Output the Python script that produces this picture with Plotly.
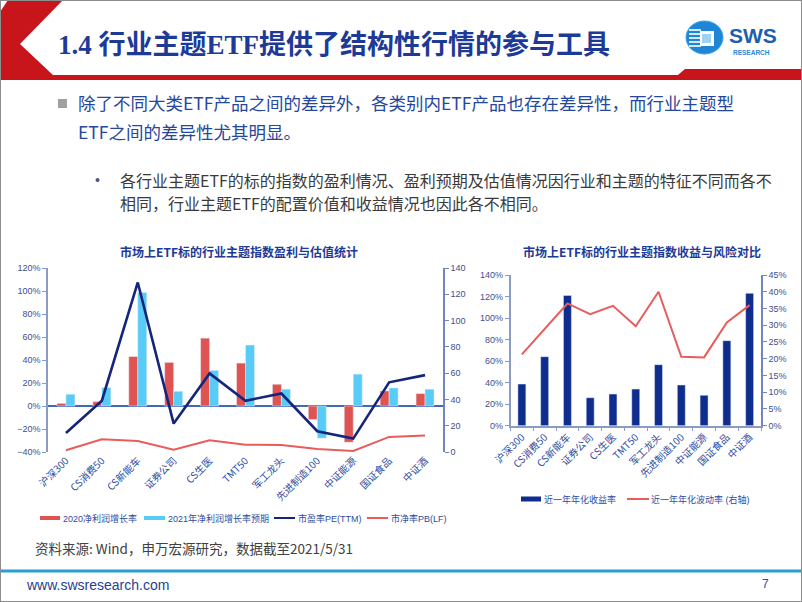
import plotly.graph_objects as go

W, H = 802, 602


def px(x):
    return x / W


def py(y):
    return 1 - y / H


# ---------------- data ----------------
categories = ["沪深300", "CS消费50", "CS新能车", "证券公司", "CS生医", "TMT50",
              "军工龙头", "先进制造100", "中证能源", "国证食品", "中证酒"]
profit_2020 = [0.023, 0.038, 0.43, 0.379, 0.59, 0.373, 0.189, -0.117, -0.315, 0.131, 0.108]
profit_2021e = [0.102, 0.16, 0.987, 0.128, 0.31, 0.53, 0.146, -0.28, 0.277, 0.157, 0.146]
pe_ttm = [14.5, 39, 129, 21.6, 59.8, 39, 44.5, 15.8, 10.2, 53, 58.5]
pb_lf = [1.3, 9.7, 8.4, 1.8, 8.9, 5.6, 5.3, 2.3, 0.8, 11.5, 12.5]
ret_1y = [0.387, 0.641, 1.21, 0.26, 0.294, 0.34, 0.567, 0.378, 0.282, 0.79, 1.23]
vol_1y = [0.213, 0.29, 0.365, 0.333, 0.358, 0.297, 0.40, 0.206, 0.204, 0.308, 0.36]

legend1_labels = ["2020净利润增长率", "2021年净利润增长率预期", "市盈率PE(TTM)", "市净率PB(LF)"]
legend2_labels = ["近一年年化收益率", "近一年年化波动率 (右轴)"]

title_text = "1.4 行业主题ETF提供了结构性行情的参与工具"
bullet1 = ["除了不同大类ETF产品之间的差异外，各类别内ETF产品也存在差异性，而行业主题型",
           "ETF之间的差异性尤其明显。"]
bullet2 = ["各行业主题ETF的标的指数的盈利情况、盈利预期及估值情况因行业和主题的特征不同而各不",
           "相同，行业主题ETF的配置价值和收益情况也因此各不相同。"]
chart1_title = "市场上ETF标的行业主题指数盈利与估值统计"
chart2_title = "市场上ETF标的行业主题指数收益与风险对比"
source_text = "资料来源: Wind，申万宏源研究，数据截至2021/5/31"

# ---------------- colors ----------------
RED_BAR = "#e05353"
CYAN_BAR = "#58cbf6"
NAVY_LINE = "#15257c"
RED_LINE = "#e85c5c"
NAVY_BAR = "#0f2d8e"
AXIS_COL = "#8a9bc8"
TICK_COL = "#3c4f90"
CAT_COL = "#2e4c9e"

FONT = "Liberation Sans, Noto Sans CJK SC, sans-serif"
CJK = "Noto Sans CJK SC, Liberation Sans, sans-serif"

fig = go.Figure()

# chart 1
fig.add_trace(go.Bar(x=categories, y=profit_2020, marker_color=RED_BAR, xaxis="x", yaxis="y",
                     showlegend=False))
fig.add_trace(go.Bar(x=categories, y=profit_2021e, marker_color=CYAN_BAR, xaxis="x", yaxis="y",
                     showlegend=False))
fig.add_trace(go.Scatter(x=categories, y=pe_ttm, mode="lines", line=dict(color=NAVY_LINE, width=2.6),
                         xaxis="x", yaxis="y2", showlegend=False))
fig.add_trace(go.Scatter(x=categories, y=pb_lf, mode="lines", line=dict(color=RED_LINE, width=2),
                         xaxis="x", yaxis="y2", showlegend=False))
# chart 2
fig.add_trace(go.Bar(x=categories, y=ret_1y, marker_color=NAVY_BAR, width=0.35,
                     xaxis="x2", yaxis="y3", showlegend=False))
fig.add_trace(go.Scatter(x=categories, y=vol_1y, mode="lines", line=dict(color=RED_LINE, width=2),
                         xaxis="x2", yaxis="y4", showlegend=False))

tickfont = dict(size=9, color=TICK_COL, family=FONT)
catfont = dict(size=10, color=CAT_COL, family=CJK)

fig.update_layout(
    width=W, height=H, margin=dict(l=0, r=0, t=0, b=0, autoexpand=False),
    paper_bgcolor="white", plot_bgcolor="rgba(0,0,0,0)",
    font=dict(family=FONT),
    showlegend=False,
    barmode="group", bargap=0.5, bargroupgap=0,
    xaxis=dict(domain=[px(48), px(443)], anchor="y", showgrid=False, showline=False, automargin=False,
               ticks="", tickangle=-45, tickfont=catfont),
    yaxis=dict(domain=[py(452), py(268)], anchor="x", range=[-0.4, 1.2], dtick=0.2, automargin=False,
               tickformat=".0%", showgrid=False, showline=True, linecolor=AXIS_COL, linewidth=1.5,
               ticks="outside", ticklen=4, tickcolor=AXIS_COL, tickfont=tickfont,
               zeroline=True, zerolinecolor="#4468b2", zerolinewidth=1.5),
    yaxis2=dict(overlaying="y", side="right", anchor="x", range=[0, 140], dtick=20, automargin=False,
                showgrid=False, showline=True, linecolor="#6f86c0", linewidth=1.5,
                ticks="outside", ticklen=4, tickcolor="#6f86c0", tickfont=tickfont, zeroline=False),
    xaxis2=dict(domain=[px(510.5), px(761)], anchor="y3", showgrid=False, showline=True, automargin=False,
                linecolor=AXIS_COL, linewidth=1.5, ticks="outside", tickson="boundaries",
                ticklen=4, tickcolor=AXIS_COL, tickangle=-45, tickfont=catfont),
    yaxis3=dict(domain=[py(425.7), py(275)], anchor="x2", range=[0, 1.4], dtick=0.2, automargin=False,
                tickformat=".0%", showgrid=False, showline=True, linecolor=AXIS_COL, linewidth=1.5,
                ticks="outside", ticklen=4, tickcolor=AXIS_COL, tickfont=tickfont, zeroline=False),
    yaxis4=dict(overlaying="y3", side="right", anchor="x2", range=[0, 0.45], dtick=0.05, automargin=False,
                tickformat=".0%", showgrid=False, showline=True, linecolor="#6f86c0", linewidth=1.5,
                ticks="outside", ticklen=4, tickcolor="#6f86c0", tickfont=tickfont, zeroline=False),
)

shapes = []
annotations = []


def path(points):
    return "M " + " L ".join(f"{px(x):.5f},{py(y):.5f}" for x, y in points) + " Z"


def text(x, y, t, font, xanchor="left"):
    annotations.append(dict(x=px(x), y=py(y), xref="paper", yref="paper", xanchor=xanchor,
                            yanchor="middle", text=t, showarrow=False, font=font))


# header decoration
shapes.append(dict(type="path", xref="paper", yref="paper", layer="below",
                   path=path([(8, 0), (63, 0), (20, 44), (54, 76), (0, 76), (0, 12)]),
                   fillcolor="#c8151c", line=dict(width=0)))
shapes.append(dict(type="rect", xref="paper", yref="paper", x0=px(0), x1=px(802), y0=py(80), y1=py(75),
                   fillcolor="#c8151c", line=dict(width=0)))
shapes.append(dict(type="path", xref="paper", yref="paper",
                   path=path([(672, 80), (685, 69), (802, 69), (802, 80)]),
                   fillcolor="#c8151c", line=dict(width=0)))

# logo
shapes.append(dict(type="circle", xref="paper", yref="paper", x0=px(686), x1=px(723), y0=py(54), y1=py(21),
                   fillcolor="#1f86d6", line=dict(color="#3aa3e8", width=1)))
for yy in [30, 34, 38, 42, 46]:
    shapes.append(dict(type="line", xref="paper", yref="paper", x0=px(689), x1=px(701), y0=py(yy), y1=py(yy),
                       line=dict(color="white", width=1.6)))
shapes.append(dict(type="rect", xref="paper", yref="paper", x0=px(700), x1=px(714), y0=py(46), y1=py(31),
                   fillcolor="white", line=dict(width=0)))
shapes.append(dict(type="rect", xref="paper", yref="paper", x0=px(702), x1=px(711), y0=py(43), y1=py(34),
                   fillcolor="#9fd2f4", line=dict(width=0)))
text(727, 35.5, "<b>SWS</b>", dict(family="Liberation Sans, sans-serif", size=21, color="#1d5eb0"))
text(731, 52.5, "<b>RESEARCH</b>", dict(family="Liberation Sans, sans-serif", size=6.5, color="#2a8ad8"))

# title
text(56, 45, f"<b>{title_text}</b>",
     dict(family="Liberation Serif, Noto Sans CJK SC, serif", size=27, color="#1c3a96"))

# bullets
shapes.append(dict(type="rect", xref="paper", yref="paper", x0=px(58), x1=px(67), y0=py(108), y1=py(99),
                   fillcolor="#a0a0a0", line=dict(width=0)))
for i, t in enumerate(bullet1):
    text(76, 103 + 28 * i, t, dict(family=CJK, size=17.5, color="#25479c"))
text(97, 180, "•", dict(family=FONT, size=14, color="#4a5a8a"), xanchor="center")
for i, t in enumerate(bullet2):
    text(118, 180 + 23 * i, t, dict(family=CJK, size=16, color="#3a3a3a"))

# chart titles
text(239, 251, f"<b>{chart1_title}</b>", dict(family=CJK, size=12, color="#1c3a96"), xanchor="center")
text(642, 251, f"<b>{chart2_title}</b>", dict(family=CJK, size=12, color="#1c3a96"), xanchor="center")

# legend chart 1 (manual)
LEG_FONT = dict(family=FONT, size=9, color=CAT_COL)
leg_y = 518
shapes.append(dict(type="rect", xref="paper", yref="paper", x0=px(40), x1=px(60), y0=py(leg_y + 2),
                   y1=py(leg_y - 2), fillcolor=RED_BAR, line=dict(width=0)))
shapes.append(dict(type="rect", xref="paper", yref="paper", x0=px(144), x1=px(165), y0=py(leg_y + 2),
                   y1=py(leg_y - 2), fillcolor=CYAN_BAR, line=dict(width=0)))
shapes.append(dict(type="line", xref="paper", yref="paper", x0=px(274), x1=px(295), y0=py(leg_y), y1=py(leg_y),
                   line=dict(color=NAVY_LINE, width=2)))
shapes.append(dict(type="line", xref="paper", yref="paper", x0=px(367), x1=px(388), y0=py(leg_y), y1=py(leg_y),
                   line=dict(color=RED_LINE, width=2)))
for xx, lab in zip([61, 166, 296, 389], legend1_labels):
    text(xx, leg_y, lab, LEG_FONT)

# legend chart 2 (manual)
leg2_y = 499
shapes.append(dict(type="rect", xref="paper", yref="paper", x0=px(521), x1=px(541), y0=py(leg2_y + 2.5),
                   y1=py(leg2_y - 2.5), fillcolor=NAVY_BAR, line=dict(width=0)))
shapes.append(dict(type="line", xref="paper", yref="paper", x0=px(627), x1=px(649), y0=py(leg2_y), y1=py(leg2_y),
                   line=dict(color=RED_LINE, width=2)))
for xx, lab in zip([542, 649], legend2_labels):
    text(xx, leg2_y, lab, LEG_FONT)

# source
text(33, 548, source_text, dict(family=CJK, size=13.5, color="#404040"))

# footer
shapes.append(dict(type="line", xref="paper", yref="paper", x0=0, x1=1, y0=py(571), y1=py(571),
                   line=dict(color="#2aa0d2", width=3)))
text(24, 585, "www.swsresearch.com", dict(family="Liberation Sans, sans-serif", size=14, color="#1f3f8f"))
text(765, 584, "7", dict(family="Liberation Sans, sans-serif", size=12, color="#3a4a8c"), xanchor="center")

# slide border
shapes.append(dict(type="rect", xref="paper", yref="paper", x0=0, x1=1, y0=0, y1=1,
                   line=dict(color="#8c8c8c", width=2), fillcolor="rgba(0,0,0,0)"))

fig.update_layout(shapes=shapes, annotations=annotations)

fig.write_html("out.html")
